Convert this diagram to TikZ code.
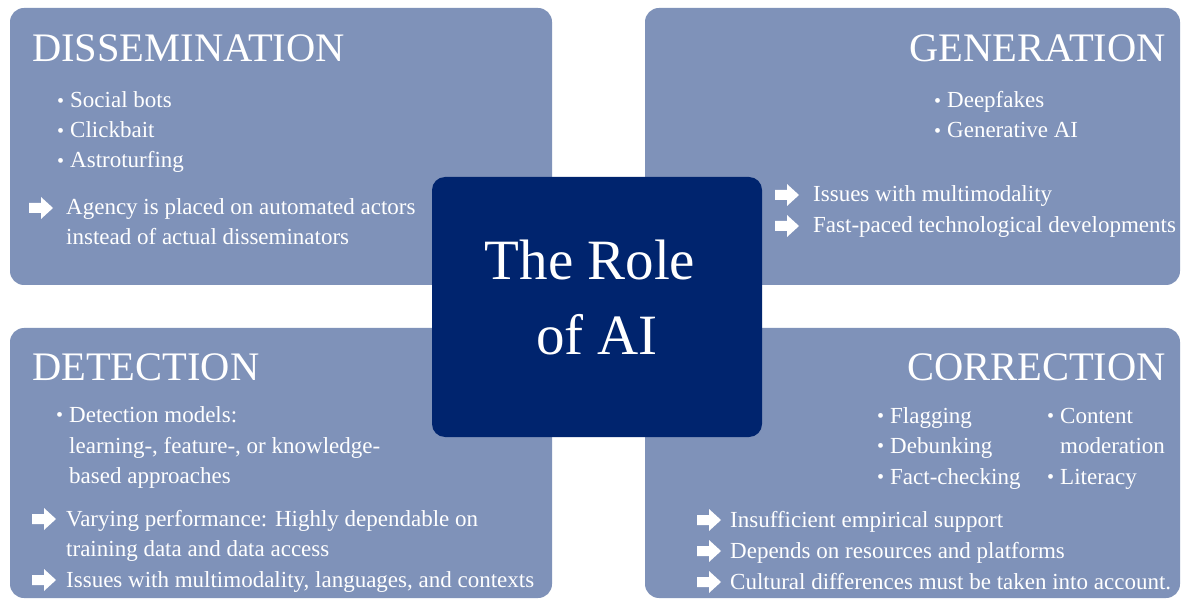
\documentclass[tikz,border=0pt]{standalone}
\usepackage{fontspec}
\setmainfont{Liberation Serif}

\definecolor{panelblue}{RGB}{127,146,185}
\definecolor{hubnavy}{RGB}{0,36,110}

% small bullet in front of list items
\newcommand\bul{\makebox[13pt][l]{\raisebox{0.5pt}{\fontsize{20}{20}\selectfont\textbullet}}}

\tikzset{
  panel/.style={fill=panelblue, rounded corners=14pt},
  hub/.style={fill=hubnavy, rounded corners=13pt, inner sep=0pt},
  head/.style={text=white, inner sep=0pt, font=\fontsize{40.5}{40.5}\selectfont},
  txt/.style={text=white, inner sep=0pt, anchor=base west, font=\fontsize{23}{30}\selectfont},
  role/.style={text=white, inner sep=0pt, anchor=base, font=\fontsize{57}{57}\selectfont},
  pics/blockarrow/.style={code={
    \fill[white] (0,-5) -- (12,-5) -- (12,-11) -- (24,0) -- (12,11) -- (12,5) -- (0,5) -- cycle;
  }}
}

\begin{document}
\begin{tikzpicture}[x=1pt,y=-1pt]
    \fill[white] (0,0) rectangle (1183,601);
    \useasboundingbox (0,0) rectangle (1183,601);

    % four panels
    \fill[panel] (10,8) rectangle (552,285);
    \fill[panel] (645,8) rectangle (1180,285);
    \fill[panel] (10,328) rectangle (552,598);
    \fill[panel] (645,328) rectangle (1180,598);

    % dissemination
    \node[head, anchor=base west] (dis) at (32,62) {DISSEMINATION};
    \node[txt] (dis-1) at (57,108) {\bul Social bots};
    \node[txt] (dis-2) at (57,138) {\bul Clickbait};
    \node[txt] (dis-3) at (57,168) {\bul Astroturfing};
    \pic at (29,208) {blockarrow};
    \node[txt] (dis-a1) at (66,215) {Agency is placed on automated actors};
    \node[txt] (dis-a2) at (66,245) {instead of actual disseminators};

    % generation
    \node[head, anchor=base east] (gen) at (1166,62) {GENERATION};
    \node[txt] (gen-1) at (934,108) {\bul Deepfakes};
    \node[txt] (gen-2) at (934,138) {\bul Generative AI};
    \pic at (775,195) {blockarrow};
    \pic at (775,226) {blockarrow};
    \node[txt] (gen-a1) at (813,202) {Issues with multimodality};
    \node[txt] (gen-a2) at (813,233) {Fast-paced technological developments};

    % detection
    \node[head, anchor=base west] (det) at (32,381) {DETECTION};
    \node[txt] (det-1) at (56,422) {\bul Detection models:};
    \node[txt] (det-2) at (69,453) {learning-, feature-, or knowledge-};
    \node[txt] (det-3) at (69,483) {based approaches};
    \pic at (32,519) {blockarrow};
    \pic at (32,580) {blockarrow};
    \node[txt] (det-a1) at (66,526) {Varying performance: Highly dependable on};
    \node[txt] (det-a2) at (66,556) {training data and data access};
    \node[txt] (det-a3) at (66,587) {Issues with multimodality, languages, and contexts};

    % correction
    \node[head, anchor=base east] (cor) at (1166,381) {CORRECTION};
    \node[txt] (cor-1) at (877,423) {\bul Flagging};
    \node[txt] (cor-2) at (877,453) {\bul Debunking};
    \node[txt] (cor-3) at (877,484) {\bul Fact-checking};
    \node[txt] (cor-4) at (1047,423) {\bul Content};
    \node[txt] (cor-5) at (1060,453) {moderation};
    \node[txt] (cor-6) at (1047,484) {\bul Literacy};
    \pic at (697,520) {blockarrow};
    \pic at (697,551) {blockarrow};
    \pic at (697,582) {blockarrow};
    \node[txt] (cor-a1) at (730,527) {Insufficient empirical support};
    \node[txt] (cor-a2) at (730,558) {Depends on resources and platforms};
    \node[txt] (cor-a3) at (730,589) {Cultural differences must be taken into account.};

    % centre box
    \node[hub, minimum width=330pt, minimum height=260pt] (ai) at (597,307) {};
    \node[role] (role-1) at (590,280) {The Role};
    \node[role] (role-2) at (597,355) {of AI};
\end{tikzpicture}
\end{document}
